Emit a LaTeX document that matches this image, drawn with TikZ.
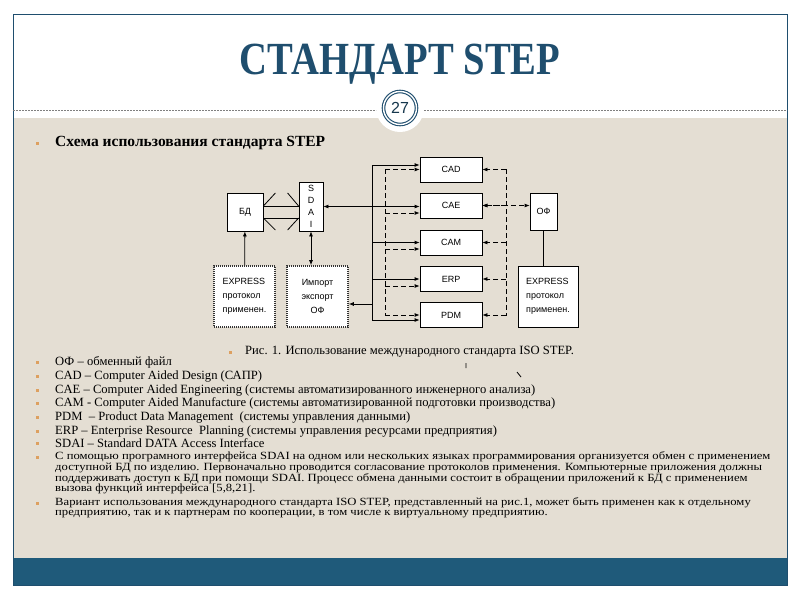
\documentclass[tikz,border=0pt]{standalone}
\usepackage{fontspec}
\usepackage{graphicx}
\setmainfont{Liberation Serif}
\newfontfamily\boxfont{Liberation Sans}
\newfontfamily\parafont[FakeStretch=1.15]{Liberation Serif}
\usetikzlibrary{arrows.meta}
\usetikzlibrary{positioning}
\definecolor{titleblue}{HTML}{1F4E6E}
\definecolor{barblue}{HTML}{1F5A7A}
\definecolor{slidebeige}{HTML}{E4DED3}
\definecolor{dotorange}{HTML}{DDA060}
\newcommand{\tightlines}{\lineskiplimit=-20pt\relax\lineskip=0pt\relax}

\begin{document}
\begin{tikzpicture}[x=1pt, y=-1pt, >={Latex[length=5pt,width=4pt]},
	box/.style={rectangle,draw,fill=white,line width=0.8pt,inner sep=0pt,minimum width=62pt,minimum height=25pt,font=\boxfont\fontsize{9}{14}\selectfont},
	thickbox/.style={box,minimum width=61pt,minimum height=61pt,line width=1.6pt,draw=black!80,dash pattern=on 1pt off 1pt,preaction={draw=gray!60,line width=1.6pt}},
	link/.style={line width=0.8pt},
	dashlink/.style={line width=0.8pt,dash pattern=on 5pt off 3pt},
	txt/.style={anchor=west,inner sep=0pt,font=\fontsize{12.6}{13.6}\selectfont},
	para/.style={anchor=north west,inner sep=0pt,align=left,font=\parafont\fontsize{11}{10.8}\selectfont\tightlines},
	dot/.style={rectangle,fill=dotorange,inner sep=0pt,minimum size=3pt}]
	\useasboundingbox (0,0) rectangle (800,600);
	% slide
	\fill[white] (0,0) rectangle (800,600);
	\fill[slidebeige] (13,118) rectangle (787,558);
	\fill[barblue] (13,558) rectangle (787,585);
	\draw[titleblue,line width=0.8pt] (13,14) rectangle (787,585);
	\draw[gray,line width=0.6pt,dash pattern=on 2pt off 1pt] (13,110) -- (787,110);
	\node (Title) at (400,64) [text=titleblue] {\scalebox{0.84}[1]{\fontsize{46}{46}\selectfont\bfseries СТАНДАРТ STEP}};
	\node (Badge) at (400,108) [circle,fill=white,minimum size=48pt] {};
	\node (PageNo) at (Badge) [circle,draw=titleblue,double=white,double distance=1.4pt,line width=1.1pt,minimum size=33pt,inner sep=0pt,font=\boxfont\fontsize{16}{16}\selectfont,text=titleblue!70!black] {27};

	% text
	\foreach \y [count=\i] in {143,362,376,390,403,417,431,443,457,503}
		\node (Dot\i) at (37,\y) [dot] {};
	\node (DotCap) at (230,352) [dot] {};
	\node (Head) at (55,143) [txt,font=\fontsize{15.5}{16}\selectfont\bfseries] {Схема использования стандарта STEP};
	\node (Cap) at (245,352) [txt] {Рис. 1. Использование международного стандарта ISO STEP.};
	\node (ItOF) at (55,362) [txt] {ОФ – обменный файл};
	\node (ItCAD) at (55,376) [txt] {CAD – Computer Aided Design (САПР)};
	\node (ItCAE) at (55,390) [txt] {CAE – Computer Aided Engineering (системы автоматизированного инженерного анализа)};
	\node (ItCAM) at (55,403) [txt] {CAM - Computer Aided Manufacture (системы автоматизированной подготовки производства)};
	\node (ItPDM) at (55,417) [txt] {PDM \ – Product Data Management \ (системы управления данными)};
	\node (ItERP) at (55,431) [txt] {ERP – Enterprise Resource \ Planning (системы управления ресурсами предприятия)};
	\node (ItSDAI) at (55,443) [txt] {SDAI – Standard DATA Access Interface};
	\node (ItUse) at (55,451.5) [para] {С помощью програмного интерфейса SDAI на одном или нескольких языках программирования организуется обмен с применением\\
		доступной БД по изделию. Первоначально проводится согласование протоколов применения. Компьютерные приложения должны\\
		поддерживать доступ к БД при помощи SDAI. Процесс обмена данными состоит в обращении приложений к БД с применением\\
		вызова функций интерфейса [5,8,21].};
	\node (ItVar) at (55,497) [para] {Вариант использования международного стандарта ISO STEP, представленный на рис.1, может быть применен как к отдельному\\
		предприятию, так и к партнерам по кооперации, в том числе к виртуальному предприятию.};
	\draw[link] (466,363) -- (466,368) (517,372) -- (521,377);

	% diagram
	\node (BD) at (245,212) [box,minimum width=36pt,minimum height=38pt] {БД};
	\node (SDAI) at (311,206.5) [box,minimum width=24pt,minimum height=49pt,align=center,font=\boxfont\fontsize{9}{12}\selectfont] {S\\D\\A\\I};
	\node (ExpL) at (244.5,296.5) [thickbox,align=left] {EXPRESS\\протокол\\применен.};
	\node (Imp) at (317.5,296.5) [thickbox,align=center] {Импорт\\экспорт\\ОФ};
	\node (CAD) at (451,169.5) [box] {CAD};
	\node (CAE) at (451,205.5) [box] {CAE};
	\node (CAM) at (451,242.5) [box] {CAM};
	\node (ERP) at (451,279) [box] {ERP};
	\node (PDM) at (451,315) [box] {PDM};
	\node (OF) at (543.5,211.5) [box,minimum width=27pt,minimum height=37pt] {ОФ};
	\node (ExpR) at (548,296.5) [box,minimum width=60pt,minimum height=61pt,align=left] {EXPRESS\\протокол\\применен.};

	\coordinate (BDa) at ([yshift=6pt]BD.east);
	\coordinate (BDb) at ([yshift=-6pt]BD.east);
	\draw[link] (BDa) -- (BDa -| SDAI.west) (BDb) -- (BDb -| SDAI.west);
	\draw[link] (BDa) -- ++(12,-13) (BDb) -- ++(12,12) (BDa -| SDAI.west) -- ++(-11,-13) (BDb -| SDAI.west) -- ++(-11,12);
	\draw[link,->] (ExpL) to (BD);
	\draw[link,<->] (SDAI.south) to (SDAI.south |- Imp.north);
	\draw[link,<->] (SDAI.east) to (SDAI.east -| CAE.west);
	\draw[link] (OF.south) to (OF.south |- ExpR.north);

	% solid bus
	\coordinate (BusTop) at (372,165);
	\coordinate (BusBot) at (372,320);
	\coordinate (BusImp) at (372,304);
	\draw[link] (BusTop) -- (BusBot);
	\draw[link,->] (BusTop) -- (BusTop -| CAD.west);
	\draw[link,->] (BusTop |- CAM.west) -- (CAM.west);
	\draw[link,->] (BusTop |- ERP.west) -- (ERP.west);
	\draw[link,->] (BusBot) -- (BusBot -| PDM.west);
	\draw[link,->] (BusImp) -- (BusImp -| Imp.east);

	% dashed bus, left
	\coordinate (DTop) at (385,169);
	\coordinate (DBot) at (385,316);
	\coordinate (CAEd) at ([yshift=-7.5pt]CAE.west);
	\coordinate (CAMd) at ([yshift=-6.5pt]CAM.west);
	\coordinate (ERPd) at ([yshift=-7pt]ERP.west);
	\draw[dashlink] (DTop) -- (DBot);
	\foreach \b in {CAD,PDM}
		\draw[dashlink,->] (DTop |- \b.west) -- (\b.west);
	\foreach \b in {CAEd,CAMd,ERPd}
		\draw[dashlink,->] (DTop |- \b) -- (\b);

	% dashed bus, right
	\coordinate (RTop) at (506,169);
	\coordinate (RBot) at (506,316);
	\draw[dashlink] (RTop) -- (RBot);
	\foreach \b in {CAD,CAE,CAM,ERP,PDM}
		\draw[dashlink,->] (RTop |- \b.east) -- (\b.east);
	\draw[dashlink,<->] (CAE.east) to (CAE.east -| OF.west);
\end{tikzpicture}
\end{document}
